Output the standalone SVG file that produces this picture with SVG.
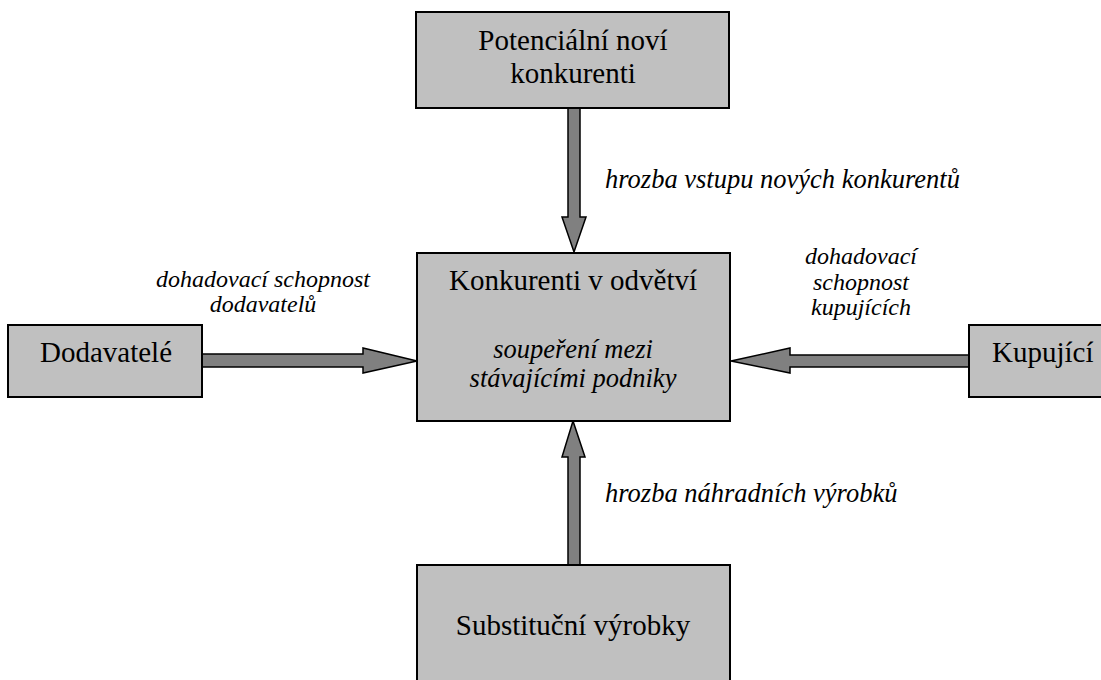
<svg xmlns="http://www.w3.org/2000/svg" width="1101" height="680" viewBox="0 0 1101 680">
<style>
.box{fill:#c0c0c0;stroke:#000;stroke-width:2}
.arr{fill:#808080;stroke:#000;stroke-width:1.5;stroke-linejoin:miter}
text{font-family:'Liberation Serif','Times New Roman',Times,serif;fill:#000}
.t{font-size:29px}
.i{font-size:26.5px;font-style:italic}
.s{font-size:24px;font-style:italic}
.m{text-anchor:middle}
</style>
<rect width="1101" height="680" fill="#fff"/>
<g id="connectors">
<polygon class="arr" points="568,108 580,108 580,217 586,217 574,252 562,217 568,217"/>
<polygon class="arr" points="568,565 580,565 580,457 585,457 573,421 562,457 568,457"/>
<polygon class="arr" points="202,354 363,354 363,348 417,361 363,373 363,367 202,367"/>
<polygon class="arr" points="969,355 790,355 790,348 731,361 790,373 790,367 969,367"/>
</g>
<g id="potencialni">
<rect class="box" x="416" y="12" width="313" height="96"/>
<text class="t m" x="573" y="50">Potenciální noví</text>
<text class="t m" x="573" y="83">konkurenti</text>
</g>
<g id="konkurenti">
<rect class="box" x="417" y="253" width="313" height="168"/>
<text class="t m" x="573" y="290">Konkurenti v odvětví</text>
<text class="i m" x="573" y="358">soupeření mezi</text>
<text class="i m" x="573" y="387">stávajícími podniky</text>
</g>
<g id="substitucni">
<rect class="box" x="417" y="565" width="313" height="125"/>
<text class="t m" x="573" y="635">Substituční výrobky</text>
</g>
<g id="dodavatele">
<rect class="box" x="8" y="325" width="194" height="72"/>
<text class="t m" x="106" y="362">Dodavatelé</text>
</g>
<g id="kupujici">
<rect class="box" x="969" y="325" width="145" height="72"/>
<text class="t" x="992" y="362">Kupující</text>
</g>
<g id="labels">
<text class="i" x="605" y="188">hrozba vstupu nových konkurentů</text>
<text class="i" x="605" y="502">hrozba náhradních výrobků</text>
<text class="s m" x="263" y="287">dohadovací schopnost</text>
<text class="s m" x="263" y="312">dodavatelů</text>
<text class="s m" x="861" y="264">dohadovací</text>
<text class="s m" x="861" y="290">schopnost</text>
<text class="s m" x="861" y="315">kupujících</text>
</g>
</svg>
